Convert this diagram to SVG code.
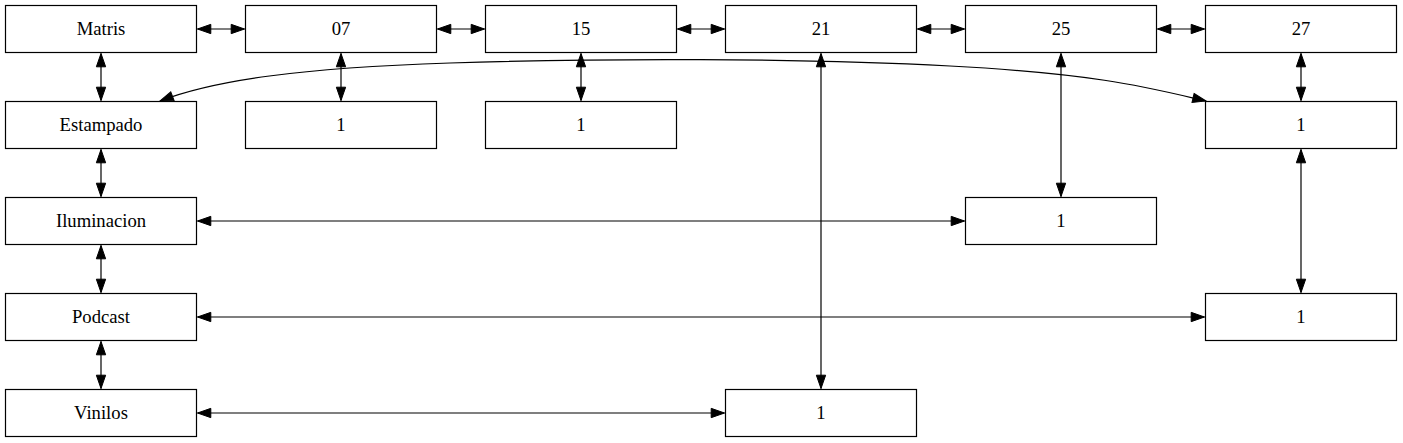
<svg xmlns="http://www.w3.org/2000/svg" width="1403" height="443" viewBox="0 0 1403 443">
<style>
.n rect{fill:#fff;stroke:#000;stroke-width:1.2}
.n text{font-family:"Times New Roman","Liberation Serif","DejaVu Serif",serif;font-size:18.67px;text-anchor:middle;fill:#000}
.e path{fill:none;stroke:#000;stroke-width:1.2;marker-start:url(#a);marker-end:url(#a)}
</style>
<defs>
<marker id="a" markerUnits="userSpaceOnUse" markerWidth="14" markerHeight="10" refX="13.3" refY="4.65" orient="auto-start-reverse" overflow="visible">
<path d="M0,0 L13.3,4.65 L0,9.3 z" fill="#000" stroke="#000" stroke-width="1"/>
</marker>
</defs>
<rect width="1403" height="443" fill="#fff"/>
<g id="connectors" class="e">
<path d="M197.5,29 H244.5"/>
<path d="M437.5,29 H484.5"/>
<path d="M677.5,29 H724.5"/>
<path d="M917.5,29 H964.5"/>
<path d="M1157.5,29 H1204.5"/>
<path d="M101,53.5 V100.5"/>
<path d="M101,149.5 V196.5"/>
<path d="M101,245.5 V292.5"/>
<path d="M101,341.5 V388.5"/>
<path d="M341,53.5 V100.5"/>
<path d="M581,53.5 V100.5"/>
<path d="M821,53.5 V388.5"/>
<path d="M1061,53.5 V196.5"/>
<path d="M1301,53.5 V100.5"/>
<path d="M1301,149.5 V292.5"/>
<path d="M197.5,221 H964.5"/>
<path d="M197.5,317 H1204.5"/>
<path d="M197.5,413 H724.5"/>
<path d="M160,101 C215,80 300,68 450,63 S800,58 950,66 S1150,88 1206,101"/>
</g>
<g id="Matris" class="n"><rect x="5.5" y="5.5" width="191" height="47"/><text x="101" y="35">Matris</text></g>
<g id="n07" class="n"><rect x="245.5" y="5.5" width="191" height="47"/><text x="341" y="35">07</text></g>
<g id="n15" class="n"><rect x="485.5" y="5.5" width="191" height="47"/><text x="581" y="35">15</text></g>
<g id="n21" class="n"><rect x="725.5" y="5.5" width="191" height="47"/><text x="821" y="35">21</text></g>
<g id="n25" class="n"><rect x="965.5" y="5.5" width="191" height="47"/><text x="1061" y="35">25</text></g>
<g id="n27" class="n"><rect x="1205.5" y="5.5" width="191" height="47"/><text x="1301" y="35">27</text></g>
<g id="Estampado" class="n"><rect x="5.5" y="101.5" width="191" height="47"/><text x="101" y="131">Estampado</text></g>
<g id="n07_1" class="n"><rect x="245.5" y="101.5" width="191" height="47"/><text x="341" y="131">1</text></g>
<g id="n15_1" class="n"><rect x="485.5" y="101.5" width="191" height="47"/><text x="581" y="131">1</text></g>
<g id="n27_1" class="n"><rect x="1205.5" y="101.5" width="191" height="47"/><text x="1301" y="131">1</text></g>
<g id="Iluminacion" class="n"><rect x="5.5" y="197.5" width="191" height="47"/><text x="101" y="227">Iluminacion</text></g>
<g id="n25_1" class="n"><rect x="965.5" y="197.5" width="191" height="47"/><text x="1061" y="227">1</text></g>
<g id="Podcast" class="n"><rect x="5.5" y="293.5" width="191" height="47"/><text x="101" y="323">Podcast</text></g>
<g id="n27_2" class="n"><rect x="1205.5" y="293.5" width="191" height="47"/><text x="1301" y="323">1</text></g>
<g id="Vinilos" class="n"><rect x="5.5" y="389.5" width="191" height="47"/><text x="101" y="419">Vinilos</text></g>
<g id="n21_1" class="n"><rect x="725.5" y="389.5" width="191" height="47"/><text x="821" y="419">1</text></g>
</svg>
